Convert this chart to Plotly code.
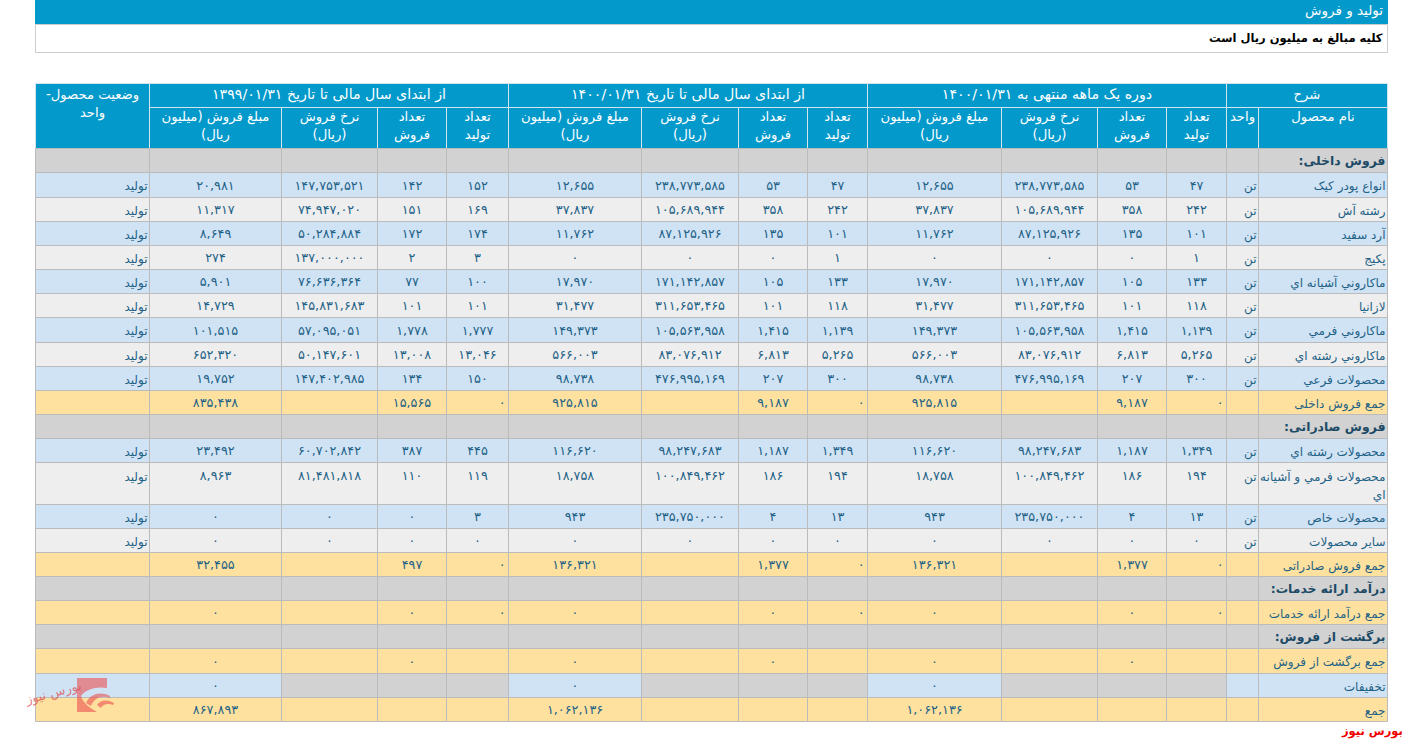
import plotly.graph_objects as go

# ---------- data ----------
TITLE = "تولید و فروش"
NOTE = "کلیه مبالغ به میلیون ریال است"
FOOTER = "بورس نیوز"
GROUPS = ["دوره یک ماهه منتهی به ۱۴۰۰/۰۱/۳۱",
          "از ابتدای سال مالی تا تاریخ ۱۴۰۰/۰۱/۳۱",
          "از ابتدای سال مالی تا تاریخ ۱۳۹۹/۰۱/۳۱"]
SUB_HEADERS = ["تعداد<br>تولید", "تعداد<br>فروش", "نرخ فروش<br>(ریال)", "مبلغ فروش (میلیون<br>ریال)"]
names = ["فروش داخلی:", "انواع پودر کیک", "رشته آش", "آرد سفید", "پکیج", "ماکاروني آشیانه اي", "لازانیا",
         "ماکاروني فرمي", "ماکاروني رشته اي", "محصولات فرعي", "جمع فروش داخلی", "فروش صادراتی:",
         "محصولات رشته اي", "محصولات فرمي و آشیانه<br>اي", "محصولات خاص", "سایر محصولات", "جمع فروش صادراتی",
         "درآمد ارائه خدمات:", "جمع درآمد ارائه خدمات", "برگشت از فروش:", "جمع برگشت از فروش", "تخفیفات", "جمع"]
kinds = ["s", "b", "g", "b", "g", "b", "g", "b", "g", "b", "t", "s", "b", "g", "b", "g", "t", "s", "t", "s", "t", "d", "t"]
cur_prod = [None, 47, 242, 101, 1, 133, 118, 1139, 5265, 300, 0, None, 1349, 194, 13, 0, 0, None, 0, None, None, None, None]
cur_sales = [None, 53, 358, 135, 0, 105, 101, 1415, 6813, 207, 9187, None, 1187, 186, 4, 0, 1377, None, 0, None, 0, None, None]
cur_rate = [None, 238773585, 105689944, 87125926, 0, 171142857, 311653465, 105563958, 83076912, 476995169, None, None,
            98247683, 100849462, 235750000, 0, None, None, None, None, None, None, None]
cur_amount = [None, 12655, 37837, 11762, 0, 17970, 31477, 149373, 566003, 98738, 925815, None,
              116620, 18758, 943, 0, 136321, None, 0, None, 0, 0, 1062136]
ytd_prod = list(cur_prod)
ytd_sales = list(cur_sales)
ytd_rate = list(cur_rate)
ytd_amount = list(cur_amount)
prev_prod = [None, 152, 169, 174, 3, 100, 101, 1777, 13046, 150, 0, None, 445, 119, 3, 0, 0, None, 0, None, None, None, None]
prev_sales = [None, 142, 151, 172, 2, 77, 101, 1778, 13008, 134, 15565, None, 387, 110, 0, 0, 497, None, 0, None, 0, None, None]
prev_rate = [None, 147753521, 74947020, 50284884, 137000000, 76636364, 145831683, 57095051, 50147601, 147402985, None, None,
             60702842, 81481818, 0, 0, None, None, None, None, None, None, None]
prev_amount = [None, 20981, 11317, 8649, 274, 5901, 14729, 101515, 652320, 19752, 835438, None,
               23492, 8963, 0, 0, 32455, None, 0, None, 0, 0, 867893]

# ---------- layout geometry ----------
X = [35.5, 149.5, 281.5, 377.5, 446.5, 508.5, 641.5, 738.5, 807.5, 867.5, 1001.5, 1097.5, 1166.5, 1226.5, 1258.5, 1387.5]
Y = [148.5, 172.5, 197.5, 221.5, 245.5, 269.5, 293.5, 317.5, 342.5, 366.5, 390.5, 414.5, 438.5, 462.5, 504.5, 528.5,
     552.5, 576.5, 600.5, 624.5, 648.5, 673.5, 697.5, 721.5]
HY = [83.5, 107.5, 148.5]
HEAD = "#0399CB"; BORDER = "#BBBBBB"; TXT = "#1D6186"; FONT = "DejaVu Sans"
FILL = {"s": "#D2D2D2", "b": "#D0E3F5", "g": "#EEEEEE", "t": "#FEE19E", "d": "#D0E3F5"}
RLM = "\u200f"

def fa(v):
    return f"{v:,}".translate(str.maketrans("0123456789", "۰۱۲۳۴۵۶۷۸۹"))

shapes = []
def rect(x0, y0, x1, y1, fill, line=BORDER, w=1, **kw):
    shapes.append(dict(type="rect", xref="x", yref="y", x0=x0, y0=y0, x1=x1, y1=y1,
                       fillcolor=fill, line=dict(color=line, width=w), layer="below", **kw))

rect(35, 0, 1388, 24, HEAD, HEAD, 0)
rect(35.5, 24.5, 1387.5, 52.5, "#FFFFFF", "#CCCCCC")

# header cells
rect(X[13], HY[0], X[15], HY[1], HEAD, "#D5E5EE")
for i, (a, b) in enumerate([(9, 13), (5, 9), (1, 5)]):
    rect(X[a], HY[0], X[b], HY[1], HEAD, "#D5E5EE")
    for c in range(a, b):
        rect(X[c], HY[1], X[c + 1], HY[2], HEAD, "#D5E5EE")
rect(X[13], HY[1], X[14], HY[2], HEAD, "#D5E5EE")
rect(X[14], HY[1], X[15], HY[2], HEAD, "#D5E5EE")
rect(X[0], HY[0], X[1], HY[2], HEAD, "#D5E5EE")

# body cells
for r, k in enumerate(kinds):
    for c in range(15):
        f = FILL[k]
        if k == "d" and c in (2, 3, 4, 6, 7, 8, 10, 11, 12):
            f = FILL["s"]
        rect(X[c], Y[r], X[c + 1], Y[r + 1], f)

# text collector
texts = {}
def put(group, x, y, s):
    texts.setdefault(group, ([], [], []))
    g = texts[group]
    g[0].append(x); g[1].append(y); g[2].append(s)

def put_lines(group, x, y, s, pitch=18):
    for i, line in enumerate(s.split("<br>")):
        put(group, x, y + i * pitch, line + RLM)

def mid(c):
    return (X[c] + X[c + 1]) / 2

# headers
put_lines("head", 1307, 96, "شرح")
for (a, b), t in zip([(9, 13), (5, 9), (1, 5)], GROUPS):
    put_lines("group", (X[a] + X[b]) / 2, 95, t)
put_lines("head", mid(0), 96, "وضعیت محصول-<br>واحد", 18)
put_lines("head", mid(14), 118, "نام محصول")
put_lines("head", mid(13), 118, "واحد")
for base in (9, 5, 1):
    for j, t in enumerate(reversed(SUB_HEADERS)):
        put_lines("head", mid(base + j), 118, t)

# body
columns = [(9, cur_amount, cur_rate, cur_sales, cur_prod),
           (5, ytd_amount, ytd_rate, ytd_sales, ytd_prod),
           (1, prev_amount, prev_rate, prev_sales, prev_prod)]
for r, (name, k) in enumerate(zip(names, kinds)):
    tall = "<br>" in name
    cy = Y[r] + 14 if tall else (Y[r] + Y[r + 1]) / 2 + 1
    if k == "s":
        put_lines("sec", X[15] - 2, cy, name, 18)
    else:
        put_lines("name", X[15] - 2, cy + 1, name, 18)
    if k in "bg":
        put("name", X[14] - 2, cy + 1, "تن")
        put("name", X[1] - 2, cy + 1, "تولید")
    for base, amt, rate, sales, prod in columns:
        for j, col in enumerate((amt, rate, sales)):
            if col[r] is not None:
                put("num", mid(base + j), cy + 0.5, fa(col[r]))
        if prod[r] is not None:
            if k == "t":
                put("zero", X[base + 4] - 3, cy + 0.5, fa(prod[r]))
            else:
                put("num", mid(base + 3), cy + 0.5, fa(prod[r]))

styles = {
    "head": ("middle center", dict(family=FONT, size=13.2, color="#FFFFFF")),
    "group": ("middle center", dict(family=FONT, size=14.2, color="#FFFFFF")),
    "num": ("middle center", dict(family=FONT, size=12.8, color=TXT)),
    "zero": ("middle left", dict(family=FONT, size=12.8, color=TXT)),
    "name": ("middle left", dict(family=FONT, size=12, color=TXT)),
    "sec": ("middle left", dict(family=FONT, size=12.4, color="#1C4A66", weight="bold")),
}

fig = go.Figure()
for g, (xs, ys, ss) in texts.items():
    pos, font = styles[g]
    fig.add_trace(go.Scatter(x=xs, y=ys, text=ss, mode="text", textposition=pos, textfont=font,
                             hoverinfo="skip", showlegend=False, cliponaxis=False))

# watermark logo
LOGO = "rgba(235,80,80,0.6)"
for p in ["M77 678 L107 678 L107 688 C95 686 85 690 81 696 C83 703 90 708 97 712 L77 712 Z",
          "M86 703 C90 694 100 691 110 696 L110 698 C102 695 94 698 91 706 Z",
          "M97 705 C100 700 107 699 114 703 L113 705 C108 703 103 704 101 708 Z"]:
    shapes.append(dict(type="path", xref="x", yref="y", layer="above", line=dict(width=0), fillcolor=LOGO, path=p))

annotations = [
    dict(x=1385, y=10, text=TITLE, xanchor="right", yanchor="middle", showarrow=False,
         font=dict(family=FONT, size=13.5, color="#FFFFFF")),
    dict(x=1385, y=38, text=f"<b>{NOTE}</b>", xanchor="right", yanchor="middle", showarrow=False,
         font=dict(family=FONT, size=11.5, color="#000000")),
    dict(x=1405, y=731, text=f"<b>{FOOTER}</b>", xanchor="right", yanchor="middle", showarrow=False,
         font=dict(family=FONT, size=11.5, color="#EE0000")),
    dict(x=53, y=693, text=FOOTER, xanchor="center", yanchor="middle", showarrow=False, textangle=-15,
         font=dict(family=FONT, size=13, color="rgba(220,80,85,0.75)")),
]

fig.update_layout(
    width=1406, height=742, margin=dict(l=0, r=0, t=0, b=0), autosize=False,
    paper_bgcolor="#FFFFFF", plot_bgcolor="#FFFFFF", shapes=shapes, annotations=annotations,
    xaxis=dict(range=[0, 1406], visible=False, fixedrange=True),
    yaxis=dict(range=[742, 0], visible=False, fixedrange=True),
)
fig.write_html("out.html", config=dict(displayModeBar=False),
               post_script="document.body.style.margin='0';document.documentElement.style.overflow='hidden';")
